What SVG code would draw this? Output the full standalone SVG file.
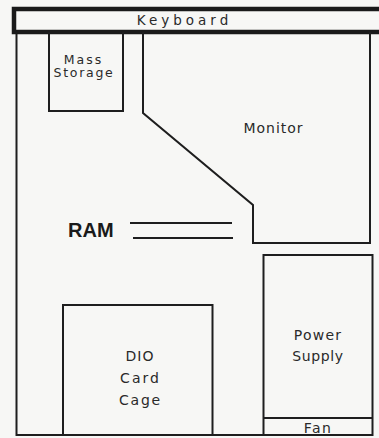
<svg xmlns="http://www.w3.org/2000/svg" width="379" height="438" viewBox="0 0 379 438">
<style>
.ln{fill:none;stroke:#1e1e1e;stroke-width:2;stroke-linejoin:miter}
.t{font-family:"DejaVu Sans","Liberation Sans",sans-serif;font-size:13px;fill:#2a2a2a;text-anchor:middle;letter-spacing:1.6px}
.b{font-family:"Liberation Sans",Arial,sans-serif;font-size:20px;font-weight:bold;fill:#1a1a1a}
</style>
<rect width="379" height="438" fill="#f7f7f5"/>
<g id="enclosure">
<polyline class="ln" points="16.5,32 16.5,435 263,435"/>
</g>
<g id="keyboard">
<rect x="14" y="9" width="380" height="23" fill="#f7f7f5" stroke="#1a1a1a" stroke-width="4.5"/>
<text class="t" x="184.5" y="24.5" style="font-size:13.5px;letter-spacing:4px">Keyboard</text>
</g>
<g id="mass-storage">
<polyline class="ln" points="49,32 49,111 123,111 123,32"/>
<text class="t" x="83.5" y="63.5" style="font-size:12.5px;letter-spacing:2px">Mass</text>
<text class="t" x="84" y="77" style="font-size:12.5px;letter-spacing:1.7px">Storage</text>
</g>
<g id="monitor">
<polyline class="ln" points="143,32 143,113 253,205 253,243 370,243 370,32"/>
<text class="t" x="273.5" y="133" style="font-size:14px;letter-spacing:1px">Monitor</text>
</g>
<g id="ram">
<text class="b" x="68" y="237">RAM</text>
<line class="ln" x1="130" y1="223" x2="232" y2="223"/>
<line class="ln" x1="133" y1="238" x2="233" y2="238"/>
</g>
<g id="dio-card-cage">
<rect class="ln" x="63" y="305" width="149.5" height="130"/>
<text class="t" x="140" y="361" style="font-size:14px;letter-spacing:1px">DIO</text>
<text class="t" x="140.5" y="383" style="font-size:14px;letter-spacing:2px">Card</text>
<text class="t" x="140.5" y="405" style="font-size:14px;letter-spacing:1.8px">Cage</text>
</g>
<g id="power-supply">
<rect class="ln" x="263.5" y="255" width="109" height="180"/>
<text class="t" x="318" y="340" style="font-size:14px;letter-spacing:1.2px">Power</text>
<text class="t" x="318" y="361" style="font-size:14px;letter-spacing:0.6px">Supply</text>
</g>
<g id="fan">
<line class="ln" x1="263.5" y1="418" x2="372.5" y2="418"/>
<text class="t" x="318" y="433" style="font-size:14px;letter-spacing:1.5px">Fan</text>
</g>
<g id="connectors"></g>
</svg>
